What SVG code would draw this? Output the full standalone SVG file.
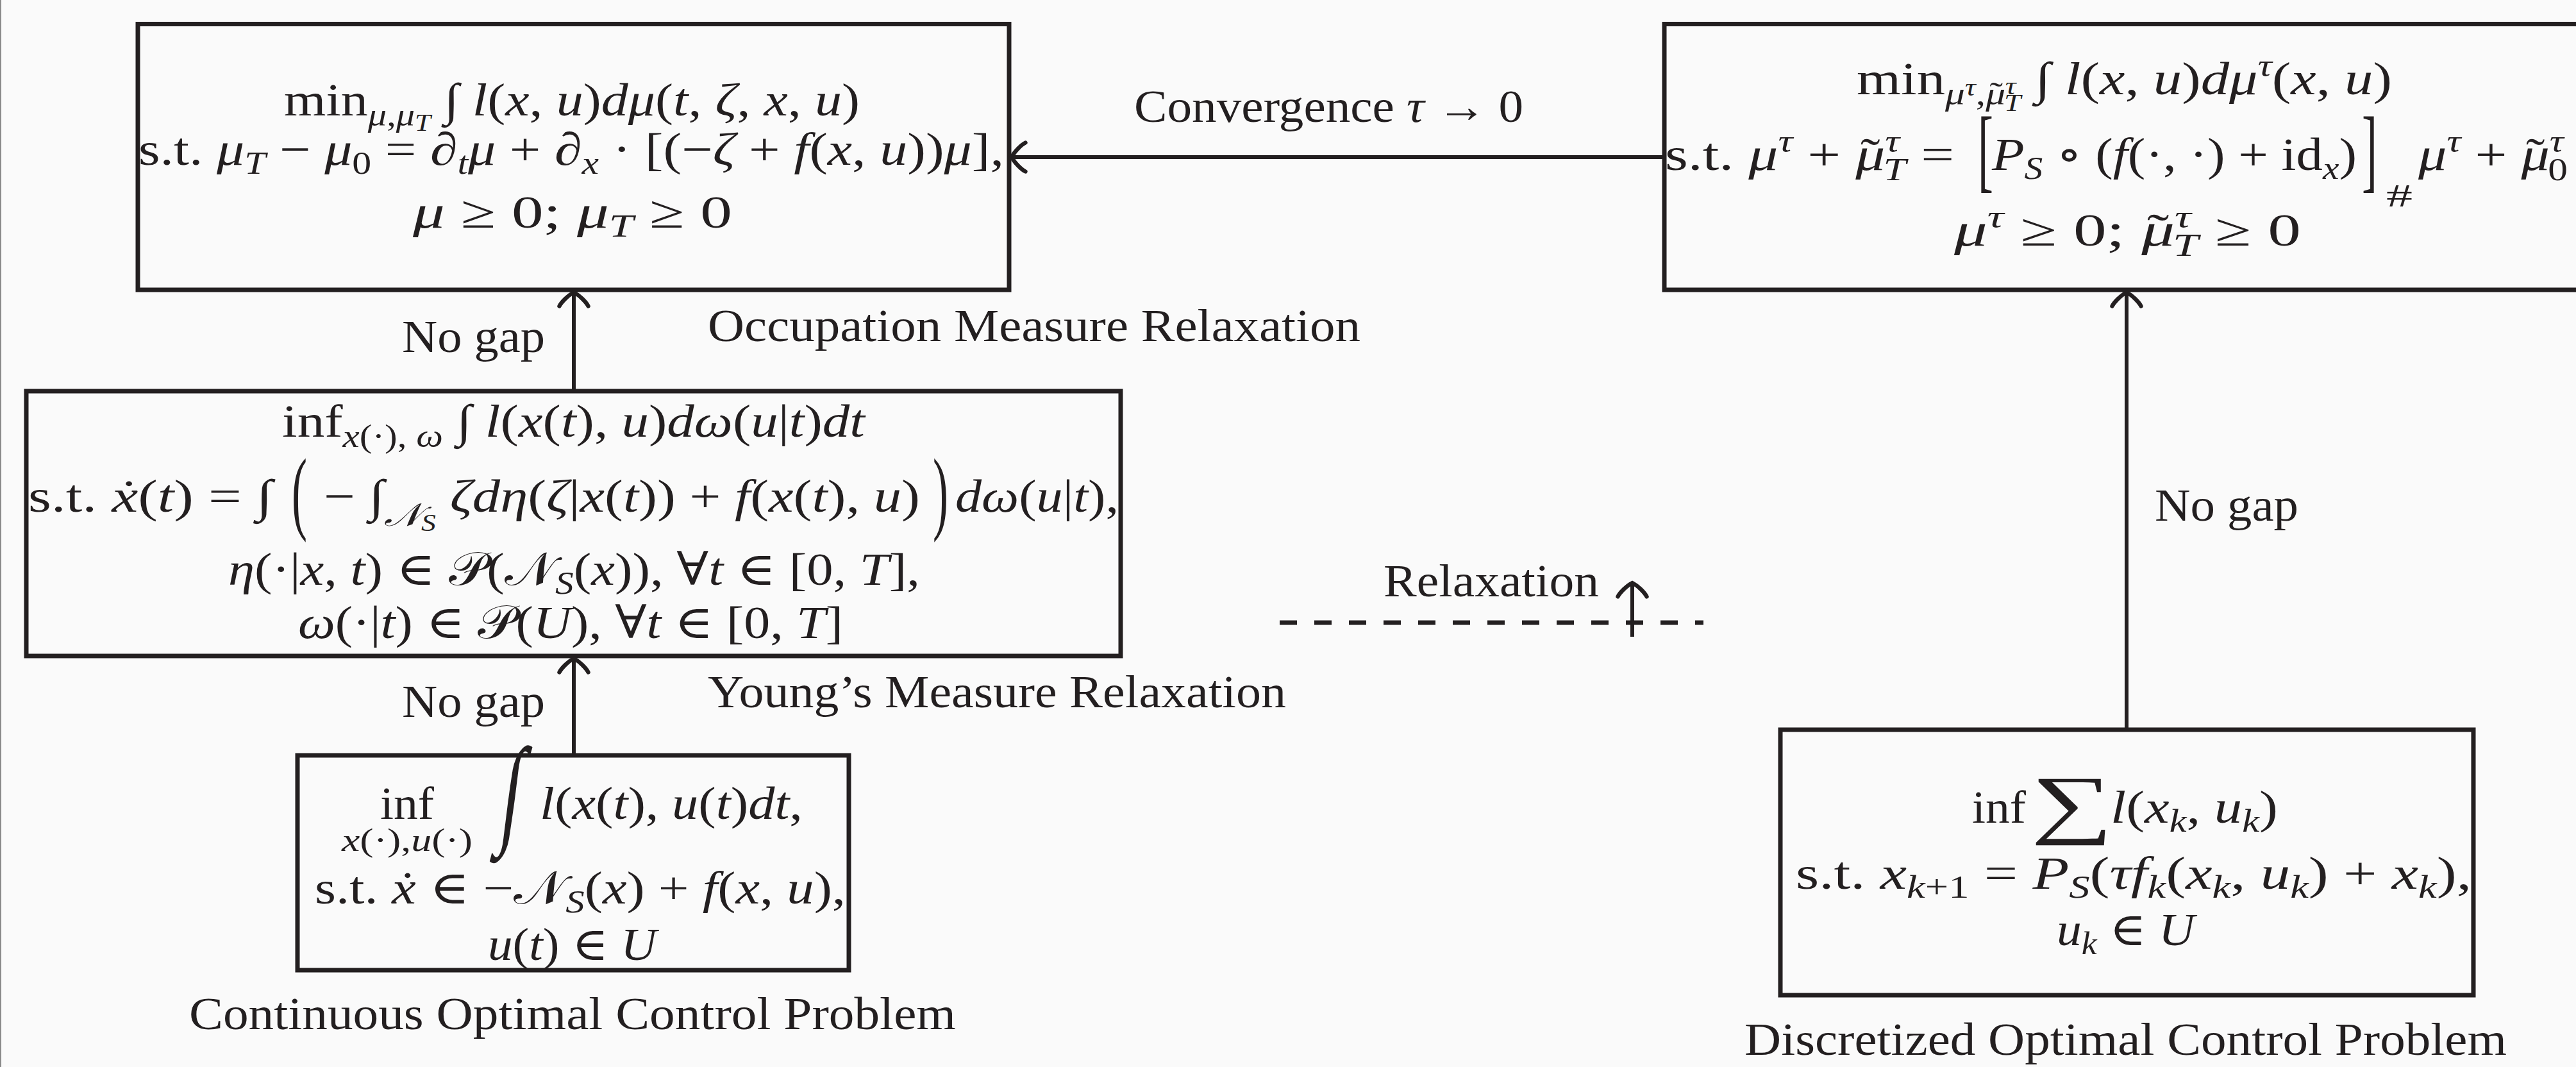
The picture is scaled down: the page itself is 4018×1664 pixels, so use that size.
<svg xmlns="http://www.w3.org/2000/svg" width="4018" height="1664" viewBox="0 0 4018 1664">
<style>
.m{font-family:"Liberation Serif","DejaVu Serif",serif;font-size:72px;fill:#231f20}
.i{font-style:italic}
.s{font-size:50px}
.ss{font-size:38px}
.big{font-size:120px}
.box{fill:none;stroke:#231f20;stroke-width:7}
.edge{fill:none;stroke:#231f20;stroke-width:6}
.dash{fill:none;stroke:#231f20;stroke-width:7;stroke-dasharray:27 27}
</style>
<defs>
<marker id="to" markerUnits="userSpaceOnUse" markerWidth="40" markerHeight="60" viewBox="-26 -28 30 56" refX="0" refY="0" orient="auto">
<path d="M-20,-21 C-14,-18 -4,-8 0,0 C-4,8 -14,18 -20,21" fill="none" stroke="#231f20" stroke-width="6" stroke-linecap="round"/>
</marker>
</defs>
<rect width="4018" height="1664" fill="#fafafa"/>
<line x1="1" y1="0" x2="1" y2="1664" stroke="#8a8a8a" stroke-width="2"/>

<g id="node-occupation">
<rect class="box" x="215" y="37.5" width="1359" height="414.5"/>
<text class="m" x="443" y="180" textLength="898" lengthAdjust="spacingAndGlyphs">min<tspan class="s i" dy="16">μ</tspan><tspan class="s">,</tspan><tspan class="s i">μ</tspan><tspan class="ss i" dy="8">T</tspan><tspan dy="-24"> ∫ </tspan><tspan class="i">l</tspan>(<tspan class="i">x</tspan>, <tspan class="i">u</tspan>)<tspan class="i">dμ</tspan>(<tspan class="i">t</tspan>, <tspan class="i">ζ</tspan>, <tspan class="i">x</tspan>, <tspan class="i">u</tspan>)</text>
<text class="m" x="216" y="257" textLength="1350" lengthAdjust="spacingAndGlyphs">s.t. <tspan class="i">μ</tspan><tspan class="s i" dy="14">T</tspan><tspan dy="-14"> − </tspan><tspan class="i">μ</tspan><tspan class="s" dy="14">0</tspan><tspan dy="-14"> = ∂</tspan><tspan class="s i" dy="14">t</tspan><tspan class="i" dy="-14">μ</tspan> + ∂<tspan class="s i" dy="14">x</tspan><tspan dy="-14"> · [(−</tspan><tspan class="i">ζ</tspan> + <tspan class="i">f</tspan>(<tspan class="i">x</tspan>, <tspan class="i">u</tspan>))<tspan class="i">μ</tspan>],</text>
<text class="m" x="644" y="355" textLength="498" lengthAdjust="spacingAndGlyphs"><tspan class="i">μ</tspan> ≥ 0;  <tspan class="i">μ</tspan><tspan class="s i" dy="14">T</tspan><tspan dy="-14"> ≥ 0</tspan></text>
<text class="m" x="1104" y="532" textLength="1018" lengthAdjust="spacingAndGlyphs">Occupation Measure Relaxation</text>
</g>

<g id="node-discrete-measure">
<rect class="box" x="2596" y="37.5" width="1450" height="414.5"/>
<text class="m" x="2896" y="147" textLength="835" lengthAdjust="spacingAndGlyphs">min<tspan class="s i" dy="16">μ</tspan><tspan class="ss i" dy="-14">τ</tspan><tspan class="s" dy="14">,</tspan><tspan class="s i">μ</tspan><tspan class="s" dx="-20">˜</tspan><tspan class="ss i" dx="3" dy="-16">τ</tspan><tspan class="ss i" dx="-15" dy="26">T</tspan><tspan dy="-26"> ∫ </tspan><tspan class="i">l</tspan>(<tspan class="i">x</tspan>, <tspan class="i">u</tspan>)<tspan class="i">dμ</tspan><tspan class="s i" dy="-28">τ</tspan><tspan dy="28">(</tspan><tspan class="i">x</tspan>, <tspan class="i">u</tspan>)</text>
<text class="m" x="2597" y="265" textLength="451" lengthAdjust="spacingAndGlyphs">s.t. <tspan class="i">μ</tspan><tspan class="s i" dy="-28">τ</tspan><tspan dy="28"> + </tspan><tspan class="i">μ</tspan><tspan dx="-30">˜</tspan><tspan class="s i" dx="6" dy="-28">τ</tspan><tspan class="s i" dx="-20" dy="44">T</tspan><tspan dy="-16"> =</tspan></text>
<text class="m" transform="translate(3085,282) scale(1,2)">[</text>
<text class="m" x="3107" y="265" textLength="569" lengthAdjust="spacingAndGlyphs"><tspan class="i">P</tspan><tspan class="s i" dy="14">S</tspan><tspan dy="-14"> ∘ (</tspan><tspan class="i">f</tspan>(·, ·) + id<tspan class="s i" dy="14">x</tspan><tspan dy="-14">)</tspan></text>
<text class="m" transform="translate(3684,282) scale(1,2)">]</text>
<text class="m s" x="3722" y="322" textLength="41" lengthAdjust="spacingAndGlyphs">#</text>
<text class="m" x="3772" y="265" textLength="233" lengthAdjust="spacingAndGlyphs"><tspan class="i">μ</tspan><tspan class="s i" dy="-28">τ</tspan><tspan dy="28"> + </tspan><tspan class="i">μ</tspan><tspan dx="-30">˜</tspan><tspan class="s i" dx="6" dy="-28">τ</tspan><tspan class="s" dx="-20" dy="44">0</tspan></text>
<text class="m" x="3048" y="383" textLength="541" lengthAdjust="spacingAndGlyphs"><tspan class="i">μ</tspan><tspan class="s i" dy="-28">τ</tspan><tspan dy="28"> ≥ 0;  </tspan><tspan class="i">μ</tspan><tspan dx="-30">˜</tspan><tspan class="s i" dx="6" dy="-28">τ</tspan><tspan class="s i" dx="-20" dy="44">T</tspan><tspan dy="-16"> ≥ 0</tspan></text>
</g>

<g id="node-young">
<rect class="box" x="41" y="610" width="1707" height="413"/>
<text class="m" x="440" y="681" textLength="909" lengthAdjust="spacingAndGlyphs">inf<tspan class="s i" dy="16">x</tspan><tspan class="s">(·), </tspan><tspan class="s i">ω</tspan><tspan dy="-16"> ∫ </tspan><tspan class="i">l</tspan>(<tspan class="i">x</tspan>(<tspan class="i">t</tspan>), <tspan class="i">u</tspan>)<tspan class="i">dω</tspan>(<tspan class="i">u</tspan>|<tspan class="i">t</tspan>)<tspan class="i">dt</tspan></text>
<text class="m" x="44" y="798" textLength="381" lengthAdjust="spacingAndGlyphs">s.t. <tspan class="i">ẋ</tspan>(<tspan class="i">t</tspan>) = ∫</text>
<text class="m" transform="translate(455,815) scale(1,2)">(</text>
<text class="m" x="505" y="798" textLength="930" lengthAdjust="spacingAndGlyphs">− ∫<tspan class="s i" dy="22">𝒩</tspan><tspan class="ss i" dy="8">S</tspan><tspan dy="-30"> </tspan><tspan class="i">ζdη</tspan>(<tspan class="i">ζ</tspan>|<tspan class="i">x</tspan>(<tspan class="i">t</tspan>)) + <tspan class="i">f</tspan>(<tspan class="i">x</tspan>(<tspan class="i">t</tspan>), <tspan class="i">u</tspan>)</text>
<text class="m" transform="translate(1455,815) scale(1,2)">)</text>
<text class="m" x="1490" y="798" textLength="255" lengthAdjust="spacingAndGlyphs"><tspan class="i">dω</tspan>(<tspan class="i">u</tspan>|<tspan class="i">t</tspan>),</text>
<text class="m" x="356" y="912" textLength="1079" lengthAdjust="spacingAndGlyphs"><tspan class="i">η</tspan>(·|<tspan class="i">x</tspan>, <tspan class="i">t</tspan>) ∈ 𝒫(𝒩<tspan class="s i" dy="14">S</tspan><tspan dy="-14">(</tspan><tspan class="i">x</tspan>)),  ∀<tspan class="i">t</tspan> ∈ [0, <tspan class="i">T</tspan>],</text>
<text class="m" x="465" y="995" textLength="850" lengthAdjust="spacingAndGlyphs"><tspan class="i">ω</tspan>(·|<tspan class="i">t</tspan>) ∈ 𝒫(<tspan class="i">U</tspan>),  ∀<tspan class="i">t</tspan> ∈ [0, <tspan class="i">T</tspan>]</text>
<text class="m" x="1104" y="1103" textLength="902" lengthAdjust="spacingAndGlyphs">Young’s Measure Relaxation</text>
</g>

<g id="node-continuous">
<rect class="box" x="464" y="1178" width="860" height="335"/>
<text class="m" x="593" y="1277" textLength="84" lengthAdjust="spacingAndGlyphs">inf</text>
<text class="m s" x="533" y="1327" textLength="204" lengthAdjust="spacingAndGlyphs"><tspan class="i">x</tspan>(·),<tspan class="i">u</tspan>(·)</text>
<text class="m" transform="translate(776,1296) scale(1.6,2.6) skewX(-12)">∫</text>
<text class="m" x="842" y="1277" textLength="410" lengthAdjust="spacingAndGlyphs"><tspan class="i">l</tspan>(<tspan class="i">x</tspan>(<tspan class="i">t</tspan>), <tspan class="i">u</tspan>(<tspan class="i">t</tspan>)<tspan class="i">dt</tspan>,</text>
<text class="m" x="491" y="1409" textLength="828" lengthAdjust="spacingAndGlyphs">s.t. <tspan class="i">ẋ</tspan> ∈ −𝒩<tspan class="s i" dy="14">S</tspan><tspan dy="-14">(</tspan><tspan class="i">x</tspan>) + <tspan class="i">f</tspan>(<tspan class="i">x</tspan>, <tspan class="i">u</tspan>),</text>
<text class="m" x="761" y="1497" textLength="263" lengthAdjust="spacingAndGlyphs"><tspan class="i">u</tspan>(<tspan class="i">t</tspan>) ∈ <tspan class="i">U</tspan></text>
<text class="m" x="295" y="1605" textLength="1196" lengthAdjust="spacingAndGlyphs">Continuous Optimal Control Problem</text>
</g>

<g id="node-discretized">
<rect class="box" x="2777" y="1138" width="1081" height="414"/>
<text class="m" x="3076" y="1283" textLength="84" lengthAdjust="spacingAndGlyphs">inf</text>
<text class="m big" transform="translate(3168,1293) scale(1.5,1)">∑</text>
<text class="m" x="3292" y="1283" textLength="261" lengthAdjust="spacingAndGlyphs"><tspan class="i">l</tspan>(<tspan class="i">x</tspan><tspan class="s i" dy="14">k</tspan><tspan dy="-14">, </tspan><tspan class="i">u</tspan><tspan class="s i" dy="14">k</tspan><tspan dy="-14">)</tspan></text>
<text class="m" x="2801" y="1386" textLength="1054" lengthAdjust="spacingAndGlyphs">s.t. <tspan class="i">x</tspan><tspan class="s" dy="14"><tspan class="i">k</tspan>+1</tspan><tspan dy="-14"> = </tspan><tspan class="i">P</tspan><tspan class="s i" dy="14">S</tspan><tspan dy="-14">(</tspan><tspan class="i">τf</tspan><tspan class="s i" dy="14">k</tspan><tspan dy="-14">(</tspan><tspan class="i">x</tspan><tspan class="s i" dy="14">k</tspan><tspan dy="-14">, </tspan><tspan class="i">u</tspan><tspan class="s i" dy="14">k</tspan><tspan dy="-14">) + </tspan><tspan class="i">x</tspan><tspan class="s i" dy="14">k</tspan><tspan dy="-14">),</tspan></text>
<text class="m" x="3208" y="1474" textLength="215" lengthAdjust="spacingAndGlyphs"><tspan class="i">u</tspan><tspan class="s i" dy="14">k</tspan><tspan dy="-14"> ∈ </tspan><tspan class="i">U</tspan></text>
<text class="m" x="2721" y="1645" textLength="1189" lengthAdjust="spacingAndGlyphs">Discretized Optimal Control Problem</text>
</g>

<g id="connectors">
<line class="edge" x1="895" y1="1175" x2="895" y2="1027" marker-end="url(#to)"/>
<line class="edge" x1="895" y1="607" x2="895" y2="456" marker-end="url(#to)"/>
<line class="edge" x1="2593" y1="245" x2="1578" y2="245" marker-end="url(#to)"/>
<line class="edge" x1="3317" y1="1135" x2="3317" y2="456" marker-end="url(#to)"/>
<line class="dash" x1="1996" y1="971" x2="2657" y2="971"/>
<line class="edge" x1="2546" y1="993" x2="2546" y2="909" marker-end="url(#to)"/>
<text class="m" x="627" y="549" textLength="223" lengthAdjust="spacingAndGlyphs">No gap</text>
<text class="m" x="627" y="1118" textLength="223" lengthAdjust="spacingAndGlyphs">No gap</text>
<text class="m" x="3361" y="812" textLength="224" lengthAdjust="spacingAndGlyphs">No gap</text>
<text class="m" x="1769" y="190" textLength="607" lengthAdjust="spacingAndGlyphs">Convergence <tspan class="i">τ</tspan> → 0</text>
<text class="m" x="2158" y="930" textLength="336" lengthAdjust="spacingAndGlyphs">Relaxation</text>
</g>
</svg>
